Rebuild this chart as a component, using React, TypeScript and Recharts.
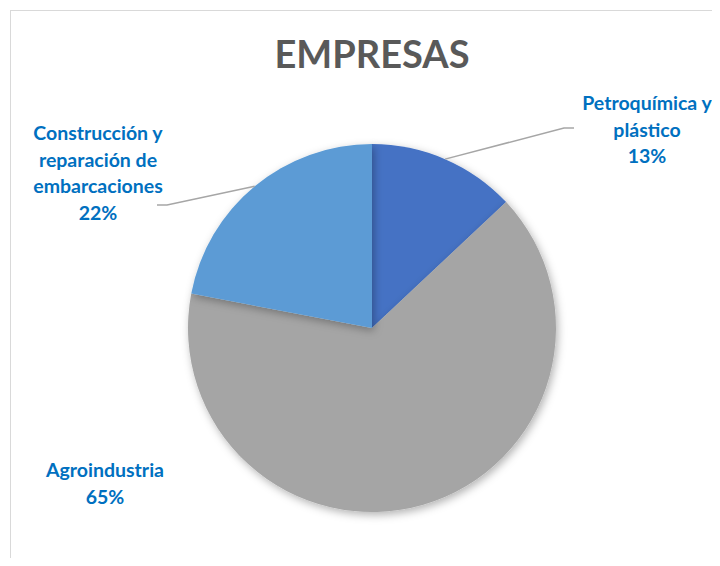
import React from "react";
import { PieChart, Pie, Cell } from "recharts";

// Datos del gráfico
const sectores = [
  "Petroquímica y plástico",
  "Agroindustria",
  "Construcción y reparación de embarcaciones",
];
const porcentajes = [13, 65, 22];
const etiquetas = [
  ["Petroquímica y", "plástico"],
  ["Agroindustria"],
  ["Construcción y", "reparación de", "embarcaciones"],
];
const colores = ["#4472C4", "#A5A5A5", "#5B9BD5"];

const data = sectores.map((name, i) => ({ name, value: porcentajes[i] }));

// label placement relative to pie centre (Excel moved these by hand)
const labelPos = [
  { dx: 275, dy: -218, elbow: { dx: 192, dy: -200 }, end: { dx: 202, dy: -200 } },
  { dx: -267, dy: 149, elbow: null, end: null },
  { dx: -274, dy: -188, elbow: { dx: -205, dy: -123 }, end: { dx: -215, dy: -123 } },
];

const RAD = Math.PI / 180;
const LINE_H = 26.5;

function renderLabel(props: any) {
  const { cx, cy, midAngle, outerRadius, index, value } = props;
  const pos = labelPos[index];
  const lines = [...etiquetas[index], `${value}%`];
  const sx = cx + outerRadius * Math.cos(-midAngle * RAD);
  const sy = cy + outerRadius * Math.sin(-midAngle * RAD);
  return (
    <g key={`lbl-${index}`}>
      {pos.elbow && pos.end && (
        <polyline
          points={`${sx},${sy} ${cx + pos.elbow.dx},${cy + pos.elbow.dy} ${cx + pos.end.dx},${cy + pos.end.dy}`}
          fill="none"
          stroke="#A6A6A6"
          strokeWidth={1.5}
        />
      )}
      <text
        x={cx + pos.dx}
        y={cy + pos.dy}
        textAnchor="middle"
        fill="#0070C0"
        fontSize={19.5}
        fontWeight={700}
        fontFamily="Lato, 'Open Sans', sans-serif"
      >
        {lines.map((l, i) => (
          <tspan key={i} x={cx + pos.dx} dy={i === 0 ? 0 : LINE_H}>
            {l}
          </tspan>
        ))}
      </text>
    </g>
  );
}

export default function App() {
  return (
    <div style={{ margin: -8, position: "relative", width: 720, height: 566, background: "#fff", overflow: "hidden" }}>
      <svg width={0} height={0} style={{ position: "absolute" }}>
        <defs>
          <filter id="pieShadow" x="-20%" y="-20%" width="140%" height="140%">
            <feDropShadow dx={2} dy={3} stdDeviation={4} floodColor="#000" floodOpacity={0.3} />
          </filter>
        </defs>
      </svg>
      <div
        style={{
          position: "absolute",
          left: 10,
          top: 10,
          width: 800,
          height: 700,
          border: "1.5px solid #D9D9D9",
        }}
      />
      <div
        style={{
          position: "absolute",
          left: 0,
          width: 744,
          top: 30,
          textAlign: "center",
          fontFamily: "Lato, 'Open Sans', sans-serif",
          fontWeight: 700,
          fontSize: 38,
          color: "#595959",
        }}
      >
        EMPRESAS
      </div>
      <div style={{ position: "absolute", left: 0, top: 0 }}>
        <PieChart width={720} height={566} margin={{ top: 0, right: 0, bottom: 0, left: 0 }}>
          <Pie
            data={data}
            dataKey="value"
            nameKey="name"
            cx={372}
            cy={328}
            outerRadius={184}
            startAngle={90}
            endAngle={-270}
            stroke="none"
            isAnimationActive={false}
            labelLine={false}
            label={renderLabel}
            style={{ filter: "url(#pieShadow)" }}
          >
            {data.map((d, i) => (
              <Cell key={d.name} fill={colores[i]} />
            ))}
          </Pie>
        </PieChart>
      </div>
    </div>
  );
}
